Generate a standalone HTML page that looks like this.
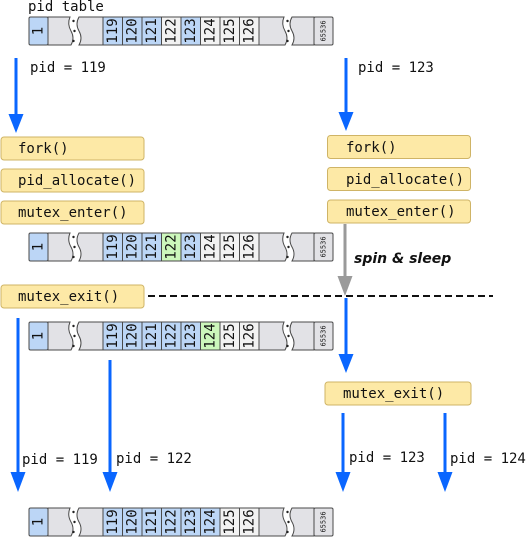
<!DOCTYPE html>
<html><head><meta charset="utf-8"><style>
html,body{margin:0;padding:0;background:#fff;}
svg{display:block;}
text{font-family:"DejaVu Sans Mono","Liberation Mono",monospace;font-size:14px;fill:#111;}
.s{font-size:7px;}
.box{fill:#fde9a6;stroke:#cfb466;stroke-width:1;}
.bl{fill:#bcd6f6;}
.gr{fill:#ccf7bb;}
.wh{fill:#f2f2f2;}
.gy{fill:#e2e2e6;}
.cell{stroke:#4a4a4a;stroke-width:1;}
</style></head><body>
<svg width="527" height="537" viewBox="0 0 527 537" xmlns="http://www.w3.org/2000/svg">

<text x="28" y="11">pid table</text>

<!-- TABLE 1 y=17 -->
<g transform="translate(0,17)">
<rect class="cell bl" x="29" y="0" width="19" height="28" rx="1.5"/>
<path class="cell gy" d="M48,0 H70 Q67,7 71,14 Q75,21 71,28 H48 Z"/>
<path class="cell gy" d="M79,0 H103 V28 H79 Q83,21 79,14 Q75,7 79,0 Z"/>
<circle cx="73.5" cy="4" r="1.2" fill="#222"/><circle cx="74.5" cy="14" r="1.2" fill="#222"/><circle cx="73.5" cy="24" r="1.2" fill="#222"/>
<rect class="cell bl" x="103" y="0" width="19.5" height="28"/>
<rect class="cell bl" x="122.5" y="0" width="19.5" height="28"/>
<rect class="cell bl" x="142" y="0" width="19.5" height="28"/>
<rect class="cell wh" x="161.5" y="0" width="19.5" height="28"/>
<rect class="cell bl" x="181" y="0" width="19.5" height="28"/>
<rect class="cell wh" x="200.5" y="0" width="19.5" height="28"/>
<rect class="cell wh" x="220" y="0" width="19.5" height="28"/>
<rect class="cell wh" x="239.5" y="0" width="19.5" height="28"/>
<path class="cell gy" d="M259,0 H284 Q281,7 285,14 Q289,21 285,28 H259 Z"/>
<path class="cell gy" d="M292,0 H314 V28 H292 Q296,21 292,14 Q288,7 292,0 Z"/>
<circle cx="287.5" cy="4" r="1.2" fill="#222"/><circle cx="288.5" cy="14" r="1.2" fill="#222"/><circle cx="287.5" cy="24" r="1.2" fill="#222"/>
<rect class="cell gy" x="314" y="0" width="19" height="28" rx="1.5"/>
<text transform="translate(38.5,14) rotate(-90)" text-anchor="middle" dominant-baseline="central">1</text>
<text transform="translate(112.75,14) rotate(-90)" text-anchor="middle" dominant-baseline="central">119</text>
<text transform="translate(132.25,14) rotate(-90)" text-anchor="middle" dominant-baseline="central">120</text>
<text transform="translate(151.75,14) rotate(-90)" text-anchor="middle" dominant-baseline="central">121</text>
<text transform="translate(171.25,14) rotate(-90)" text-anchor="middle" dominant-baseline="central">122</text>
<text transform="translate(190.75,14) rotate(-90)" text-anchor="middle" dominant-baseline="central">123</text>
<text transform="translate(210.25,14) rotate(-90)" text-anchor="middle" dominant-baseline="central">124</text>
<text transform="translate(229.75,14) rotate(-90)" text-anchor="middle" dominant-baseline="central">125</text>
<text transform="translate(249.25,14) rotate(-90)" text-anchor="middle" dominant-baseline="central">126</text>
<text class="s" transform="translate(323.5,14) rotate(-90)" text-anchor="middle" dominant-baseline="central">65536</text>
</g>

<!-- TABLE 2 y=233 -->
<g transform="translate(0,233)">
<rect class="cell bl" x="29" y="0" width="19" height="28" rx="1.5"/>
<path class="cell gy" d="M48,0 H70 Q67,7 71,14 Q75,21 71,28 H48 Z"/>
<path class="cell gy" d="M79,0 H103 V28 H79 Q83,21 79,14 Q75,7 79,0 Z"/>
<circle cx="73.5" cy="4" r="1.2" fill="#222"/><circle cx="74.5" cy="14" r="1.2" fill="#222"/><circle cx="73.5" cy="24" r="1.2" fill="#222"/>
<rect class="cell bl" x="103" y="0" width="19.5" height="28"/>
<rect class="cell bl" x="122.5" y="0" width="19.5" height="28"/>
<rect class="cell bl" x="142" y="0" width="19.5" height="28"/>
<rect class="cell gr" x="161.5" y="0" width="19.5" height="28"/>
<rect class="cell bl" x="181" y="0" width="19.5" height="28"/>
<rect class="cell wh" x="200.5" y="0" width="19.5" height="28"/>
<rect class="cell wh" x="220" y="0" width="19.5" height="28"/>
<rect class="cell wh" x="239.5" y="0" width="19.5" height="28"/>
<path class="cell gy" d="M259,0 H284 Q281,7 285,14 Q289,21 285,28 H259 Z"/>
<path class="cell gy" d="M292,0 H314 V28 H292 Q296,21 292,14 Q288,7 292,0 Z"/>
<circle cx="287.5" cy="4" r="1.2" fill="#222"/><circle cx="288.5" cy="14" r="1.2" fill="#222"/><circle cx="287.5" cy="24" r="1.2" fill="#222"/>
<rect class="cell gy" x="314" y="0" width="19" height="28" rx="1.5"/>
<text transform="translate(38.5,14) rotate(-90)" text-anchor="middle" dominant-baseline="central">1</text>
<text transform="translate(112.75,14) rotate(-90)" text-anchor="middle" dominant-baseline="central">119</text>
<text transform="translate(132.25,14) rotate(-90)" text-anchor="middle" dominant-baseline="central">120</text>
<text transform="translate(151.75,14) rotate(-90)" text-anchor="middle" dominant-baseline="central">121</text>
<text transform="translate(171.25,14) rotate(-90)" text-anchor="middle" dominant-baseline="central">122</text>
<text transform="translate(190.75,14) rotate(-90)" text-anchor="middle" dominant-baseline="central">123</text>
<text transform="translate(210.25,14) rotate(-90)" text-anchor="middle" dominant-baseline="central">124</text>
<text transform="translate(229.75,14) rotate(-90)" text-anchor="middle" dominant-baseline="central">125</text>
<text transform="translate(249.25,14) rotate(-90)" text-anchor="middle" dominant-baseline="central">126</text>
<text class="s" transform="translate(323.5,14) rotate(-90)" text-anchor="middle" dominant-baseline="central">65536</text>
</g>

<!-- TABLE 3 y=322 -->
<g transform="translate(0,322)">
<rect class="cell bl" x="29" y="0" width="19" height="28" rx="1.5"/>
<path class="cell gy" d="M48,0 H70 Q67,7 71,14 Q75,21 71,28 H48 Z"/>
<path class="cell gy" d="M79,0 H103 V28 H79 Q83,21 79,14 Q75,7 79,0 Z"/>
<circle cx="73.5" cy="4" r="1.2" fill="#222"/><circle cx="74.5" cy="14" r="1.2" fill="#222"/><circle cx="73.5" cy="24" r="1.2" fill="#222"/>
<rect class="cell bl" x="103" y="0" width="19.5" height="28"/>
<rect class="cell bl" x="122.5" y="0" width="19.5" height="28"/>
<rect class="cell bl" x="142" y="0" width="19.5" height="28"/>
<rect class="cell bl" x="161.5" y="0" width="19.5" height="28"/>
<rect class="cell bl" x="181" y="0" width="19.5" height="28"/>
<rect class="cell gr" x="200.5" y="0" width="19.5" height="28"/>
<rect class="cell wh" x="220" y="0" width="19.5" height="28"/>
<rect class="cell wh" x="239.5" y="0" width="19.5" height="28"/>
<path class="cell gy" d="M259,0 H284 Q281,7 285,14 Q289,21 285,28 H259 Z"/>
<path class="cell gy" d="M292,0 H314 V28 H292 Q296,21 292,14 Q288,7 292,0 Z"/>
<circle cx="287.5" cy="4" r="1.2" fill="#222"/><circle cx="288.5" cy="14" r="1.2" fill="#222"/><circle cx="287.5" cy="24" r="1.2" fill="#222"/>
<rect class="cell gy" x="314" y="0" width="19" height="28" rx="1.5"/>
<text transform="translate(38.5,14) rotate(-90)" text-anchor="middle" dominant-baseline="central">1</text>
<text transform="translate(112.75,14) rotate(-90)" text-anchor="middle" dominant-baseline="central">119</text>
<text transform="translate(132.25,14) rotate(-90)" text-anchor="middle" dominant-baseline="central">120</text>
<text transform="translate(151.75,14) rotate(-90)" text-anchor="middle" dominant-baseline="central">121</text>
<text transform="translate(171.25,14) rotate(-90)" text-anchor="middle" dominant-baseline="central">122</text>
<text transform="translate(190.75,14) rotate(-90)" text-anchor="middle" dominant-baseline="central">123</text>
<text transform="translate(210.25,14) rotate(-90)" text-anchor="middle" dominant-baseline="central">124</text>
<text transform="translate(229.75,14) rotate(-90)" text-anchor="middle" dominant-baseline="central">125</text>
<text transform="translate(249.25,14) rotate(-90)" text-anchor="middle" dominant-baseline="central">126</text>
<text class="s" transform="translate(323.5,14) rotate(-90)" text-anchor="middle" dominant-baseline="central">65536</text>
</g>

<!-- TABLE 4 y=508 -->
<g transform="translate(0,508)">
<rect class="cell bl" x="29" y="0" width="19" height="28" rx="1.5"/>
<path class="cell gy" d="M48,0 H70 Q67,7 71,14 Q75,21 71,28 H48 Z"/>
<path class="cell gy" d="M79,0 H103 V28 H79 Q83,21 79,14 Q75,7 79,0 Z"/>
<circle cx="73.5" cy="4" r="1.2" fill="#222"/><circle cx="74.5" cy="14" r="1.2" fill="#222"/><circle cx="73.5" cy="24" r="1.2" fill="#222"/>
<rect class="cell bl" x="103" y="0" width="19.5" height="28"/>
<rect class="cell bl" x="122.5" y="0" width="19.5" height="28"/>
<rect class="cell bl" x="142" y="0" width="19.5" height="28"/>
<rect class="cell bl" x="161.5" y="0" width="19.5" height="28"/>
<rect class="cell bl" x="181" y="0" width="19.5" height="28"/>
<rect class="cell bl" x="200.5" y="0" width="19.5" height="28"/>
<rect class="cell wh" x="220" y="0" width="19.5" height="28"/>
<rect class="cell wh" x="239.5" y="0" width="19.5" height="28"/>
<path class="cell gy" d="M259,0 H284 Q281,7 285,14 Q289,21 285,28 H259 Z"/>
<path class="cell gy" d="M292,0 H314 V28 H292 Q296,21 292,14 Q288,7 292,0 Z"/>
<circle cx="287.5" cy="4" r="1.2" fill="#222"/><circle cx="288.5" cy="14" r="1.2" fill="#222"/><circle cx="287.5" cy="24" r="1.2" fill="#222"/>
<rect class="cell gy" x="314" y="0" width="19" height="28" rx="1.5"/>
<text transform="translate(38.5,14) rotate(-90)" text-anchor="middle" dominant-baseline="central">1</text>
<text transform="translate(112.75,14) rotate(-90)" text-anchor="middle" dominant-baseline="central">119</text>
<text transform="translate(132.25,14) rotate(-90)" text-anchor="middle" dominant-baseline="central">120</text>
<text transform="translate(151.75,14) rotate(-90)" text-anchor="middle" dominant-baseline="central">121</text>
<text transform="translate(171.25,14) rotate(-90)" text-anchor="middle" dominant-baseline="central">122</text>
<text transform="translate(190.75,14) rotate(-90)" text-anchor="middle" dominant-baseline="central">123</text>
<text transform="translate(210.25,14) rotate(-90)" text-anchor="middle" dominant-baseline="central">124</text>
<text transform="translate(229.75,14) rotate(-90)" text-anchor="middle" dominant-baseline="central">125</text>
<text transform="translate(249.25,14) rotate(-90)" text-anchor="middle" dominant-baseline="central">126</text>
<text class="s" transform="translate(323.5,14) rotate(-90)" text-anchor="middle" dominant-baseline="central">65536</text>
</g>

<!-- function boxes -->
<rect class="box" x="1" y="137" width="143" height="23" rx="3"/>
<text x="18" y="153">fork()</text>
<rect class="box" x="1" y="169" width="143" height="23" rx="3"/>
<text x="18" y="185">pid_allocate()</text>
<rect class="box" x="1" y="201" width="143" height="23" rx="3"/>
<text x="18" y="217">mutex_enter()</text>
<rect class="box" x="1" y="285" width="143" height="23" rx="3"/>
<text x="18" y="301">mutex_exit()</text>

<rect class="box" x="327.5" y="135.5" width="143" height="23" rx="3"/>
<text x="346" y="152">fork()</text>
<rect class="box" x="327.5" y="167.5" width="143" height="23" rx="3"/>
<text x="346" y="184">pid_allocate()</text>
<rect class="box" x="327.5" y="200" width="143" height="23" rx="3"/>
<text x="346" y="216">mutex_enter()</text>
<rect class="box" x="325" y="382" width="146" height="23" rx="3"/>
<text x="343" y="398">mutex_exit()</text>

<!-- dashed line -->
<line x1="148" y1="296" x2="493" y2="296" stroke="#111" stroke-width="2" stroke-dasharray="7,4"/>

<!-- grey arrow -->
<line x1="345" y1="224" x2="345" y2="280" stroke="#9a9a9a" stroke-width="3"/>
<polygon points="337.5,276 352.5,276 345,296" fill="#9a9a9a"/>
<text x="354" y="263" style="font-family:'DejaVu Sans','Liberation Sans',sans-serif;font-style:italic;font-weight:bold;font-size:14px;">spin &amp; sleep</text>

<!-- blue arrows -->
<g stroke="#0a66ff" stroke-width="3">
<line x1="16" y1="58" x2="16" y2="118"/>
<line x1="346" y1="58" x2="346" y2="116"/>
<line x1="346" y1="298" x2="346" y2="358"/>
<line x1="18" y1="318" x2="18" y2="476"/>
<line x1="110" y1="360" x2="110" y2="476"/>
<line x1="343" y1="413" x2="343" y2="476"/>
<line x1="445" y1="413" x2="445" y2="476"/>
</g>
<g fill="#0a66ff">
<polygon points="8.5,114 23.5,114 16,133"/>
<polygon points="338.5,112 353.5,112 346,131"/>
<polygon points="338.5,354 353.5,354 346,373"/>
<polygon points="10.5,472 25.5,472 18,492"/>
<polygon points="102.5,472 117.5,472 110,492"/>
<polygon points="335.5,472 350.5,472 343,492"/>
<polygon points="437.5,472 452.5,472 445,492"/>
</g>

<text x="30" y="72">pid = 119</text>
<text x="358" y="72">pid = 123</text>
<text x="22" y="464">pid = 119</text>
<text x="116" y="463">pid = 122</text>
<text x="349" y="462">pid = 123</text>
<text x="450" y="463">pid = 124</text>
</svg>
</body></html>
